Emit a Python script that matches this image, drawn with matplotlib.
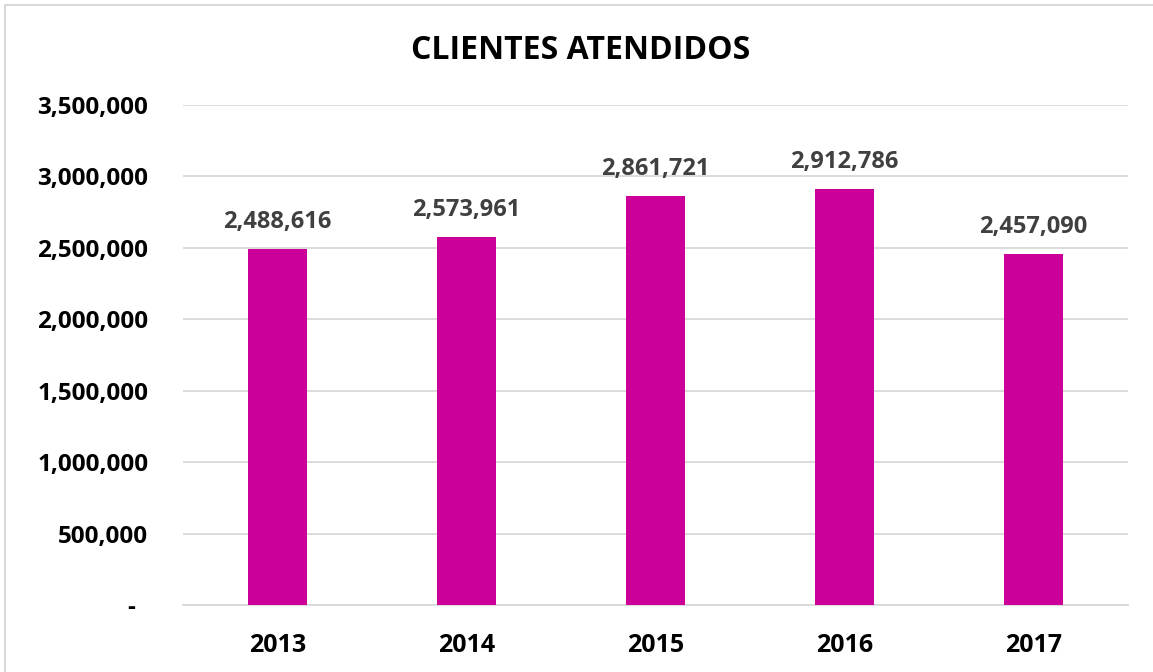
import matplotlib.pyplot as plt
from matplotlib.patches import Rectangle
from matplotlib.ticker import FuncFormatter

years = ['2013', '2014', '2015', '2016', '2017']
clientes = [2488616, 2573961, 2861721, 2912786, 2457090]
yticks = [0, 500000, 1000000, 1500000, 2000000, 2500000, 3000000, 3500000]

plt.rcParams['font.family'] = ['Open Sans', 'DejaVu Sans']


def fmt(v, pos):
    if v == 0:
        return '-  '
    return f'{v:,.0f}'


fig = plt.figure(figsize=(11.53, 6.72), dpi=100)
ax = fig.add_axes([183 / 1153, 67 / 672, 945 / 1153, 500 / 672])

x = range(len(years))
ax.bar(x, clientes, width=0.31, color='#CC0099', zorder=3)
for i, v in zip(x, clientes):
    ax.annotate(f'{v:,}', (i, v), xytext=(0, 11), textcoords='offset points',
                ha='center', va='bottom', fontsize=17, fontweight='bold', color='#404040')

ax.set_xlim(-0.5, 4.5)
ax.set_ylim(0, 3500000)
ax.set_xticks(list(x))
ax.set_xticklabels(years)
ax.set_yticks(yticks)
ax.yaxis.set_major_formatter(FuncFormatter(fmt))
ax.grid(axis='y', color='#D9D9D9', linewidth=1.3, zorder=0)
for s in ['top', 'right', 'left']:
    ax.spines[s].set_visible(False)
ax.spines['bottom'].set_color('#D9D9D9')
ax.spines['bottom'].set_linewidth(1.3)
ax.tick_params(axis='both', length=0)
ax.tick_params(axis='x', pad=20, labelsize=18)
ax.tick_params(axis='y', pad=25, labelsize=17.5)
for lbl in ax.get_xticklabels() + ax.get_yticklabels():
    lbl.set_fontweight('bold')
    lbl.set_color('black')

fig.text(0.504, 0.925, 'CLIENTES ATENDIDOS', ha='center', va='center',
         fontsize=23, fontweight='bold', color='black')

# chart border
fig.patches.append(Rectangle((5 / 1153, -0.1), 1.2, (667 / 672) + 0.1, transform=fig.transFigure,
                             fill=False, edgecolor='#D9D9D9', linewidth=1.5))

plt.savefig('out.png', dpi=100)
